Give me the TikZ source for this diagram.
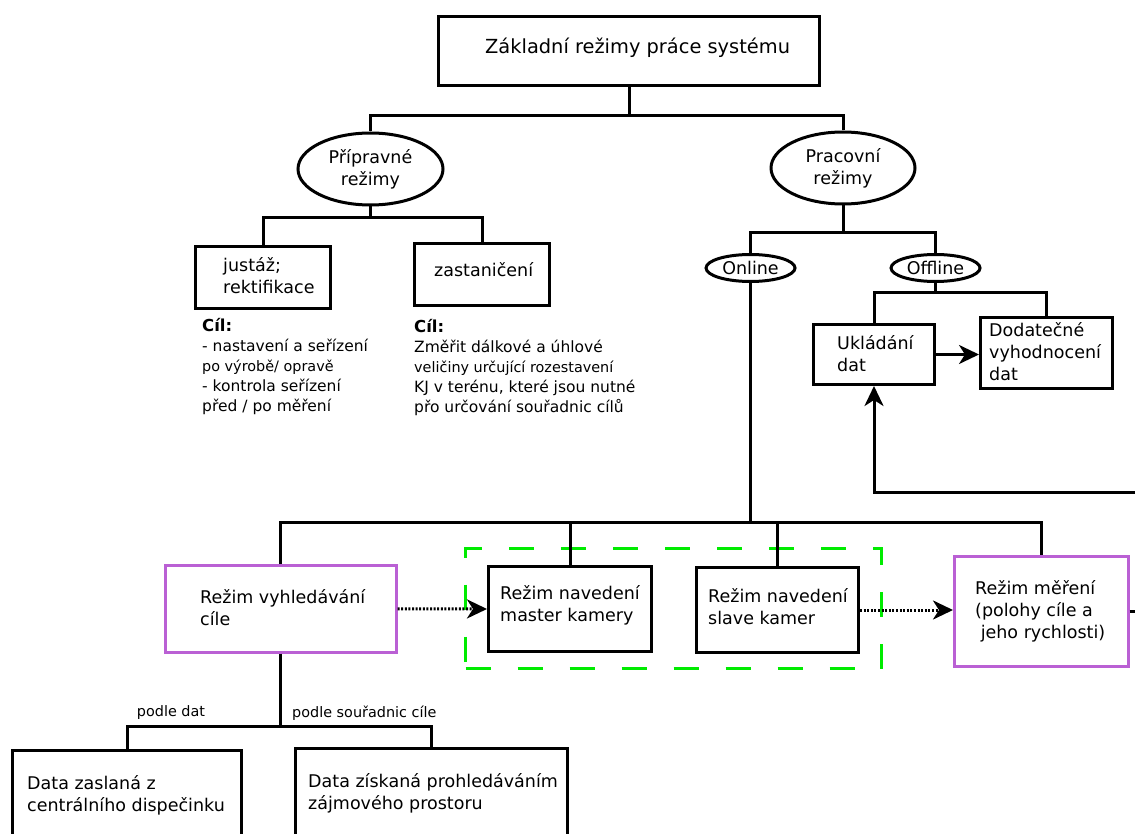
\documentclass[tikz,border=0pt]{standalone}
\usepackage{fontspec}
\setmainfont{DejaVu Sans}
\usetikzlibrary{shapes.geometric,arrows.meta}
\definecolor{boxpurple}{RGB}{186,96,212}
\definecolor{dashgreen}{RGB}{0,235,0}
\tikzset{
  fr/.style={draw, line width=3pt, rectangle, inner sep=0pt, anchor=north west},
  pfr/.style={draw=boxpurple, line width=2.6pt, rectangle, inner sep=0pt, anchor=north west},
  grp/.style={draw=dashgreen, line width=3pt, dash pattern=on 25pt off 27pt, rectangle, inner sep=0pt, anchor=north west},
  oval/.style={draw, line width=3pt, ellipse, inner sep=0pt, align=center, font=\fontsize{17.5}{22}\selectfont},
  txt/.style={inner sep=0pt, align=left, anchor=west, font=\fontsize{17.5}{22}\selectfont},
  wire/.style={line width=3pt},
  tip/.style={-{Stealth[length=20pt,width=19pt,inset=6pt]}},
  dotwire/.style={line width=3pt, dash pattern=on 2pt off 1.6pt},
  goal/.style={inner sep=0pt, align=left, anchor=north west, font=\fontsize{15.5}{20}\selectfont},
  small/.style={inner sep=0pt, font=\fontsize{14.4}{17}\selectfont},
}
\begin{document}
\begin{tikzpicture}[x=1pt,y=-1pt]
\useasboundingbox (0,0) rectangle (1135,834);
\clip (0,0) rectangle (1135,834);
% bus levels
\coordinate (busA) at (0,116);
\coordinate (busB) at (0,218);
\coordinate (busC) at (0,233);
\coordinate (busD) at (0,293);
\coordinate (busE) at (0,522);
\coordinate (busF) at (0,726);
\coordinate (fbk) at (1140,492);
\coordinate (merEnd) at (1140,610);

% top
\node[fr, minimum width=381pt, minimum height=69pt] (top) at (437,15) {};
\node[txt, font=\fontsize{19.4}{24}\selectfont] (topT) at (485,48) {Základní režimy práce systému};

% ellipses
\node[oval, minimum width=145pt, minimum height=72pt] (prip) at (370.5,169) {Přípravné\\režimy};
\node[oval, minimum width=144pt, minimum height=72pt] (prac) at (843,168) {Pracovní\\režimy};
\node[oval, minimum width=89pt, minimum height=27pt] (online) at (750.5,268) {Online};
\node[oval, minimum width=89pt, minimum height=27pt] (offline) at (935.5,268) {Offline};

% preparatory boxes
\node[fr, minimum width=135pt, minimum height=62pt] (just) at (194,245) {};
\node[txt] (justT) at (223,276) {justáž;\\rektifikace};
\node[fr, minimum width=135pt, minimum height=62pt] (zast) at (413,242) {};
\node[txt] (zastT) at (434,270) {zastaničení};

% goals
\node[goal] (cil1) at (202,318) {{\fontsize{16.5}{20}\selectfont\bfseries Cíl:}\\- nastavení a seřízení\\{\fontsize{14.4}{17}\selectfont po výrobě/ opravě}\\- kontrola seřízení\\před / po měření};
\node[goal] (cil2) at (414,319) {{\fontsize{16.5}{20}\selectfont\bfseries Cíl:}\\Změřit dálkové a úhlové\\{\fontsize{14.4}{17}\selectfont veličiny určující rozestavení}\\KJ v terénu, které jsou nutné\\přo určování souřadnic cílů};

% offline boxes
\node[fr, minimum width=121pt, minimum height=60pt] (ukl) at (812,323) {};
\node[txt] (uklT) at (837,354) {Ukládání\\dat};
\node[fr, minimum width=132pt, minimum height=71pt] (dod) at (979,316) {};
\node[txt] (dodT) at (989,352) {Dodatečné\\vyhodnocení\\dat};

% online modes
\node[grp, minimum width=416pt, minimum height=120pt] (grp) at (464,547) {};
\node[pfr, minimum width=231pt, minimum height=87pt] (vyh) at (164,564) {};
\node[txt] (vyhT) at (200,608) {Režim vyhledávání\\cíle};
\node[fr, minimum width=163pt, minimum height=85pt] (master) at (487,565) {};
\node[txt] (masterT) at (500,605) {Režim navedení\\master kamery};
\node[fr, minimum width=162pt, minimum height=85pt] (slave) at (695,566) {};
\node[txt] (slaveT) at (708,607) {Režim navedení\\slave kamer};
\node[pfr, minimum width=174pt, minimum height=110pt] (mer) at (953,555) {};
\node[txt] (merT) at (975,611) {Režim měření\\(polohy cíle a\\\ jeho rychlosti)};

% data sources
\node[fr, minimum width=229pt, minimum height=95pt] (dzas) at (11,749) {};
\node[txt] (dzasT) at (27,795) {Data zaslaná z\\centrálního dispečinku};
\node[fr, minimum width=272pt, minimum height=97pt] (dzis) at (294,747) {};
\node[txt] (dzisT) at (308,793) {Data získaná prohledáváním\\zájmového prostoru};

\node[small] (l1) at (171,713) {podle dat};
\node[small, anchor=west] (l2) at (292,713) {podle souřadnic cíle};

% connectors
\draw[wire] (top.south) -- (top.south |- busA);
\draw[wire] (prip.north) |- (prac.north |- busA) -- (prac.north);
\draw[wire] (prip.south) -- (prip.south |- busB);
\draw[wire] (just.north) |- (zast.north |- busB) -- (zast.north);
\draw[wire] (prac.south) -- (prac.south |- busC);
\draw[wire] (online.north) |- (offline.north |- busC) -- (offline.north);
\draw[wire] (offline.south) -- (offline.south |- busD);
\draw[wire] (ukl.north) |- (dod.north |- busD) -- (dod.north);
\draw[wire, tip] (ukl.east) -- (ukl.east -| dod.west);
\draw[wire, tip] (fbk) -| (ukl.south);
\draw[wire] (online.south) -- (online.south |- busE);
\draw[wire] (vyh.north) |- (mer.north |- busE) -- (mer.north);
\draw[wire] (master.north) -- (master.north |- busE);
\draw[wire] (slave.north) -- (slave.north |- busE);
\draw[dotwire, tip] (vyh.east) -- (master.west);
\draw[dotwire, tip] (slave.east) -- (slave.east -| mer.west);
\draw[wire] (mer.east) -- (mer.east -| merEnd);
\draw[wire] (vyh.south) -- (vyh.south |- busF);
\draw[wire] (dzas.north) |- (dzis.north |- busF) -- (dzis.north);
\end{tikzpicture}
\end{document}
